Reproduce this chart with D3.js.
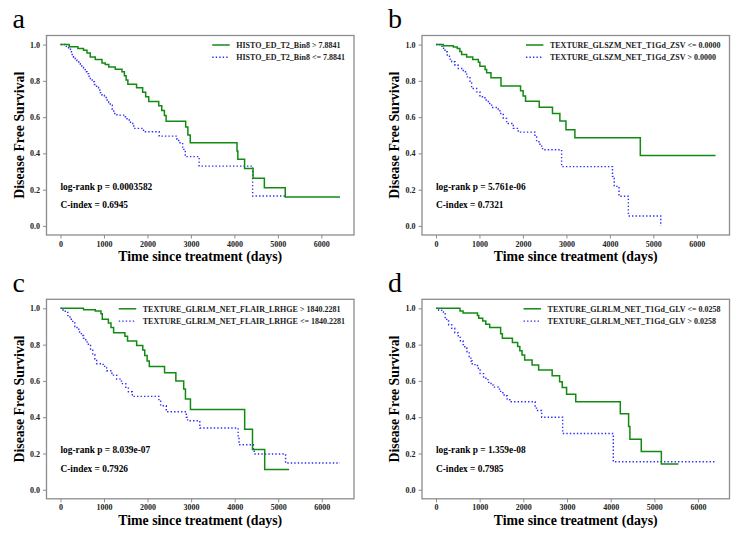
<!DOCTYPE html>
<html>
<head>
<meta charset="utf-8">
<script src="https://cdn.jsdelivr.net/npm/d3@7"></script>
<style>
body { margin: 0; background: #fff; }
text { font-family: "Liberation Serif", "Times New Roman", serif; }
</style>
</head>
<body>
<svg id="fig" width="746" height="541"></svg>
<script>
/// Kaplan-Meier curves, [time in days, survival after the step]
var aGreen = [[0,1],[200,0.988],[400,0.978],[530,0.969],[610,0.954],[685,0.932],[800,0.917],[955,0.899],[1030,0.89],[1110,0.877],[1260,0.864],[1415,0.85],[1470,0.828],[1510,0.804],[1550,0.781],[1750,0.762],[1890,0.737],[1960,0.712],[2030,0.686],[2260,0.663],[2330,0.637],[2390,0.609],[2430,0.577],[2880,0.545],[2930,0.502],[2985,0.459],[4060,0.413],[4080,0.367],[4235,0.317],[4430,0.263],[4690,0.21],[5170,0.159],[6430,0.159]]
var aBlue = [[0,1],[100,0.99],[185,0.978],[230,0.96],[270,0.945],[300,0.93],[340,0.915],[375,0.905],[420,0.895],[455,0.886],[490,0.874],[530,0.862],[570,0.85],[610,0.84],[650,0.826],[685,0.813],[730,0.795],[780,0.78],[830,0.765],[875,0.749],[915,0.735],[955,0.721],[1010,0.708],[1070,0.694],[1110,0.68],[1145,0.666],[1190,0.643],[1225,0.62],[1300,0.611],[1490,0.602],[1530,0.584],[1610,0.565],[1685,0.538],[1910,0.519],[2270,0.495],[2680,0.478],[2720,0.459],[2810,0.422],[2870,0.382],[3190,0.33],[4420,0.165],[5200,0.165]]

var bGreen = [[0,1],[170,0.994],[400,0.987],[490,0.978],[550,0.962],[590,0.945],[705,0.932],[845,0.917],[975,0.903],[1010,0.881],[1130,0.862],[1165,0.844],[1265,0.817],[1495,0.771],[1945,0.745],[2005,0.716],[2060,0.688],[2375,0.655],[2680,0.62],[2850,0.578],[2990,0.53],[3195,0.486],[4700,0.388],[6430,0.388]]
var bBlue = [[0,1],[90,0.99],[150,0.98],[207,0.96],[260,0.936],[310,0.92],[360,0.905],[437,0.886],[513,0.868],[628,0.85],[705,0.822],[782,0.789],[820,0.758],[935,0.739],[1011,0.712],[1126,0.694],[1203,0.675],[1280,0.653],[1433,0.642],[1471,0.62],[1548,0.593],[1625,0.565],[1778,0.538],[1893,0.517],[2276,0.49],[2314,0.464],[2391,0.44],[2452,0.42],[2890,0.327],[4060,0.273],[4100,0.218],[4210,0.164],[4425,0.055],[5170,0.0]]

var cGreen = [[0,1],[530,0.993],[800,0.985],[930,0.97],[960,0.94],[1100,0.92],[1160,0.895],[1220,0.866],[1480,0.846],[1540,0.82],[1750,0.795],[1890,0.77],[1935,0.74],[1990,0.71],[2040,0.68],[2390,0.645],[2650,0.6],[2830,0.555],[2870,0.5],[2985,0.443],[4230,0.333],[4410,0.222],[4690,0.111],[5250,0.111]]
var cBlue = [[0,1],[60,0.99],[110,0.978],[170,0.96],[220,0.94],[280,0.92],[330,0.9],[380,0.885],[420,0.87],[480,0.85],[530,0.835],[580,0.815],[640,0.795],[690,0.77],[740,0.745],[790,0.72],[830,0.695],[980,0.68],[1060,0.656],[1180,0.632],[1290,0.61],[1400,0.585],[1500,0.56],[1560,0.54],[1650,0.515],[2260,0.488],[2300,0.463],[2430,0.43],[2890,0.4],[2920,0.38],[3200,0.34],[4080,0.29],[4100,0.248],[4430,0.224],[4450,0.197],[5170,0.147],[6420,0.147]]

var dGreen = [[0,1],[550,0.985],[620,0.975],[950,0.96],[980,0.945],[1070,0.93],[1140,0.912],[1230,0.895],[1480,0.86],[1520,0.835],[1750,0.812],[1870,0.79],[1920,0.767],[1970,0.743],[2030,0.715],[2200,0.688],[2350,0.66],[2660,0.628],[2830,0.596],[2890,0.564],[2990,0.526],[3200,0.485],[4220,0.419],[4410,0.349],[4440,0.279],[4700,0.211],[5160,0.142],[5550,0.142]]
var dBlue = [[0,1],[60,0.99],[130,0.98],[170,0.97],[210,0.95],[245,0.93],[290,0.91],[360,0.89],[430,0.865],[510,0.84],[560,0.82],[620,0.8],[660,0.78],[710,0.76],[760,0.735],[800,0.71],[830,0.69],[950,0.67],[1010,0.64],[1090,0.615],[1190,0.592],[1260,0.577],[1320,0.566],[1430,0.555],[1480,0.535],[1560,0.518],[1630,0.5],[1690,0.485],[2270,0.462],[2300,0.437],[2420,0.4],[2900,0.31],[4060,0.154],[6400,0.154]]

/// Texts
var letters = ["a", "b", "c", "d"]
var greenLabels = ["HISTO_ED_T2_Bin8 > 7.8841", "TEXTURE_GLSZM_NET_T1Gd_ZSV <= 0.0000",
                   "TEXTURE_GLRLM_NET_FLAIR_LRHGE > 1840.2281", "TEXTURE_GLRLM_NET_T1Gd_GLV <= 0.0258"]
var blueLabels = ["HISTO_ED_T2_Bin8 <= 7.8841", "TEXTURE_GLSZM_NET_T1Gd_ZSV > 0.0000",
                  "TEXTURE_GLRLM_NET_FLAIR_LRHGE <= 1840.2281", "TEXTURE_GLRLM_NET_T1Gd_GLV > 0.0258"]
var logRank = ["0.0003582", "5.761e-06", "8.039e-07", "1.359e-08"]
var cIndex = ["0.6945", "0.7321", "0.7926", "0.7985"]
var xTicks = [0, 1000, 2000, 3000, 4000, 5000, 6000]
var yTicks = [0.0, 0.2, 0.4, 0.6, 0.8, 1.0]

var greens = [aGreen, bGreen, cGreen, dGreen]
var blues = [aBlue, bBlue, cBlue, dBlue]

/// Layout of the 2x2 grid
var boxes = [{x: 46.5, y: 35.5}, {x: 422, y: 35.5}, {x: 46.5, y: 299.3}, {x: 422, y: 299.3}]
var bw = 307.5, bh = 199.5
var GREEN = "#138a13", BLUE = "#2b2bff", SPINE = "#8c8c8c"

var svg = d3.select("#fig")

boxes.forEach(function(b, i) {
    var g = svg.append("g").attr("transform", "translate(" + b.x + "," + b.y + ")")

    var xmax = d3.max(greens[i].concat(blues[i]), d => d[0])
    var x = d3.scaleLinear().domain([-0.05 * xmax, 1.05 * xmax]).range([0, bw])
    var y = d3.scaleLinear().domain([-0.05, 1.05]).range([bh, 0])

    var line = d3.line().x(d => x(d[0])).y(d => y(d[1])).curve(d3.curveStepAfter)

    g.append("path").datum(blues[i]).attr("d", line)
        .attr("fill", "none").attr("stroke", BLUE).attr("stroke-width", 1.4)
        .attr("stroke-dasharray", "1.4,2.1")
    g.append("path").datum(greens[i]).attr("d", line)
        .attr("fill", "none").attr("stroke", GREEN).attr("stroke-width", 1.5)

    /// Axes
    var xa = g.append("g").attr("transform", "translate(0," + bh + ")")
        .call(d3.axisBottom(x).tickValues(xTicks).tickFormat(d3.format("d")).tickSize(3.5).tickPadding(2.5))
    var ya = g.append("g")
        .call(d3.axisLeft(y).tickValues(yTicks).tickFormat(d3.format(".1f")).tickSize(3.5).tickPadding(3))
    ;[xa, ya].forEach(function(a) {
        a.select(".domain").remove()
        a.selectAll("line").attr("stroke", SPINE).attr("stroke-width", 1)
        a.selectAll("text").attr("font-family", "Liberation Serif").attr("font-weight", "bold")
            .attr("font-size", 8).attr("fill", "#222")
    })

    g.append("rect").attr("width", bw).attr("height", bh)
        .attr("fill", "none").attr("stroke", SPINE).attr("stroke-width", 1.3)

    /// Labels
    g.append("text").attr("x", bw / 2).attr("y", bh + 26)
        .attr("text-anchor", "middle").attr("font-weight", "bold").attr("font-size", 13.8)
        .text("Time since treatment (days)")
    g.append("text").attr("transform", "translate(-23," + (bh / 2) + ") rotate(-90)")
        .attr("text-anchor", "middle").attr("font-weight", "bold").attr("font-size", 13.8)
        .text("Disease Free Survival")

    g.append("text").attr("x", x(0)).attr("y", y(0.2))
        .attr("font-weight", "bold").attr("font-size", 9.4)
        .text("log-rank p = " + logRank[i])
    g.append("text").attr("x", x(0)).attr("y", y(0.1))
        .attr("font-weight", "bold").attr("font-size", 9.4)
        .text("C-index = " + cIndex[i])

    /// Legend, upper right, no frame
    var lg = g.append("g")
    var t1 = lg.append("text").attr("y", 12.5).text(greenLabels[i])
    var t2 = lg.append("text").attr("y", 24.8).text(blueLabels[i])
    lg.selectAll("text").attr("font-weight", "bold").attr("font-size", 8).attr("fill", "#222")
    var wmax = Math.max(t1.node().getComputedTextLength(), t2.node().getComputedTextLength())
    var tx = bw - 9 - wmax
    lg.selectAll("text").attr("x", tx)
    lg.append("line").attr("x1", tx - 24).attr("x2", tx - 6.5).attr("y1", 9.5).attr("y2", 9.5)
        .attr("stroke", GREEN).attr("stroke-width", 1.5)
    lg.append("line").attr("x1", tx - 24).attr("x2", tx - 6.5).attr("y1", 21.8).attr("y2", 21.8)
        .attr("stroke", BLUE).attr("stroke-width", 1.4).attr("stroke-dasharray", "1.4,2.1")

    svg.append("text").attr("x", b.x - 34).attr("y", b.y - 7.5)
        .attr("font-size", 28).text(letters[i])
})
</script>
</body>
</html>
